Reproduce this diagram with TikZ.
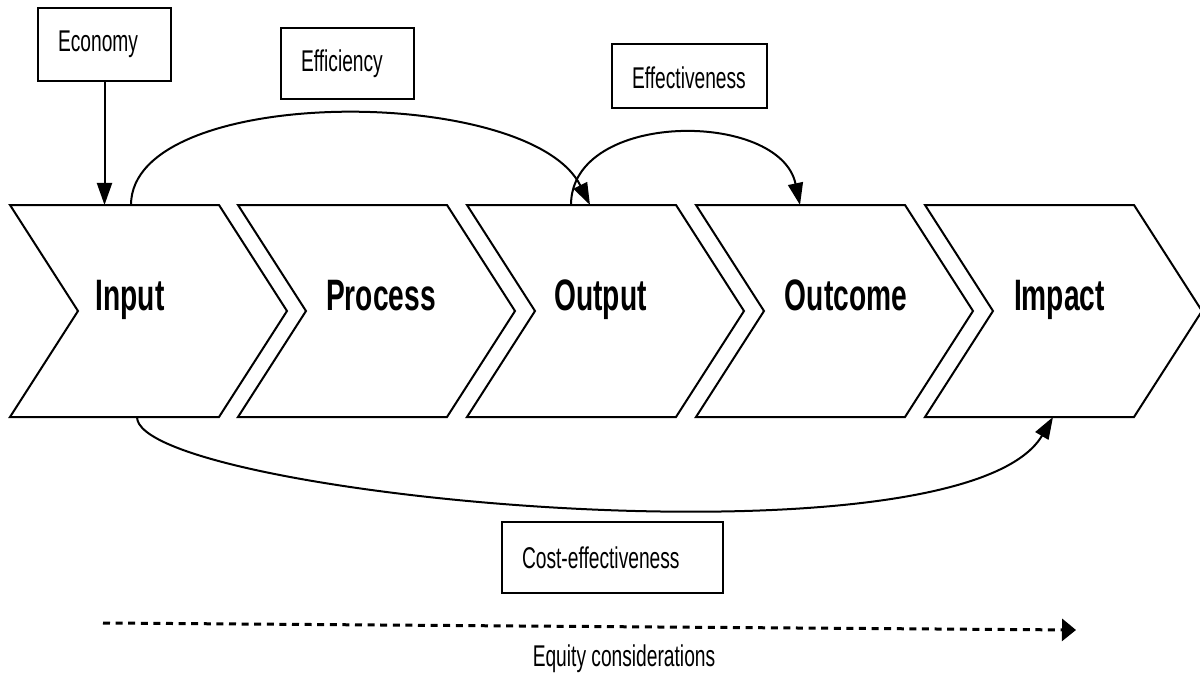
\documentclass[tikz,border=0pt]{standalone}
\usepackage{fontspec}
\setmainfont[FakeStretch=0.64]{Liberation Sans}
\usetikzlibrary{arrows.meta}

\begin{document}
\begin{tikzpicture}[x=0.5pt, y=-0.5pt,
	chev/.style={draw, line width=1pt, line join=miter},
	stage/.style={font=\fontsize{22}{26}\selectfont\bfseries, anchor=base, inner sep=0pt},
	tag/.style={draw, line width=1pt, font=\fontsize{15}{18}\selectfont, align=left, inner xsep=10pt, inner ysep=0pt},
	arr/.style={line width=1pt, -{Triangle[length=11pt, width=7.5pt]}}]

	\useasboundingbox (0,0) rectangle (1200,674);

	\foreach \x/\n in {10/1,238/2,467/3,696/4,925/5}
		\draw[chev] (\x,205) coordinate (c\n) -- ++(209,0) -- ++(68,106) -- ++(-68,106) -- ++(-209,0) -- ++(68,-106) -- cycle;

	\node[stage] (in) at (130,310) {Input};
	\node[stage] (proc) at (381,310) {Process};
	\node[stage] (outp) at (600.5,310) {Output};
	\node[stage] (outc) at (846,310) {Outcome};
	\node[stage] (imp) at (1059.5,310) {Impact};

	\node[tag, text width=46.5pt, minimum height=36.5pt] (eco) at (104.5,44.5) {Economy};
	\node[tag, text width=46.5pt, minimum height=35.5pt] (effi) at (347.5,63.5) {Efficiency};
	\node[tag, text width=57.5pt, minimum height=32pt, text height=13pt, text depth=0pt] (effe) at (689.5,76) {Effectiveness};
	\node[tag, text width=90.5pt, minimum height=35.5pt] (ce) at (612.5,557.5) {Cost-effectiveness};
	\node[font=\fontsize{15}{18}\selectfont, anchor=base, inner sep=0pt] (eq) at (624,666) {Equity considerations};

	\coordinate (eff0) at (131,205);
	\coordinate (eff1) at (590,205);
	\coordinate (ev0) at (571,205);
	\coordinate (ev1) at (800,205);
	\coordinate (ce0) at (137,417);
	\coordinate (ce1) at (1053,417);
	\coordinate (eq0) at (103,623);
	\coordinate (eq1) at (1076,630);

	\draw[arr] (eco.south) -- (eco.south |- c1);
	\draw[arr] (eff0) .. controls (131,84) and (530,84) .. (eff1);
	\draw[arr] (ev0) .. controls (571,110) and (780,110) .. (ev1);
	\draw[arr] (ce0) .. controls (137,495) and (960,575) .. (ce1);
	\draw[line width=1.5pt, dash pattern=on 3.5pt off 2.8pt, -{Triangle[length=7pt, width=11pt]}] (eq0) -- (eq1);

\end{tikzpicture}
\end{document}
